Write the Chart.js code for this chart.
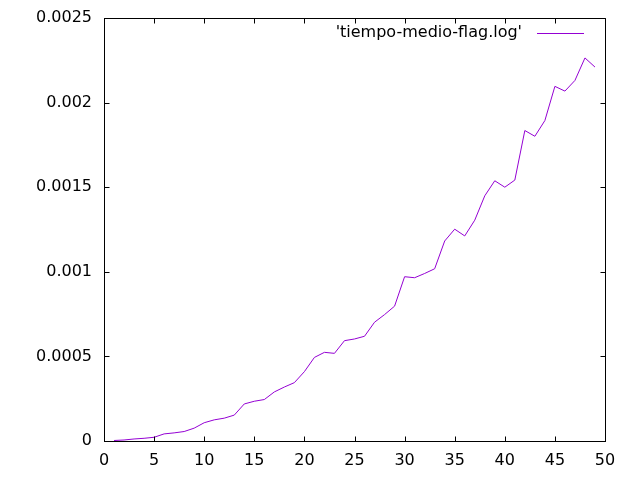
<!DOCTYPE html>
<html>
<head>
<meta charset="utf-8">
<script src="https://cdn.jsdelivr.net/npm/chart.js@4/dist/chart.umd.min.js"></script>
<style>
html,body{margin:0;padding:0;background:#fff;}
#wrap{width:640px;height:480px;}
</style>
</head>
<body>
<div id="wrap"><canvas id="c" width="640" height="480"></canvas></div>
<script>
const seriesLabel = "'tiempo-medio-flag.log'";
const xValues = [1,2,3,4,5,6,7,8,9,10,11,12,13,14,15,16,17,18,19,20,21,22,23,24,25,26,27,28,29,30,31,32,33,34,35,36,37,38,39,40,41,42,43,44,45,46,47,48,49];
const yValues = [0.000003,0.000006,0.000012,0.000016,0.000022,0.000042,0.000048,0.000056,0.000076,0.000108,
  0.000125,0.000135,0.000153,0.000219,0.000235,0.000245,0.00029,0.000319,0.000345,0.00041,
  0.000494,0.000524,0.000518,0.000593,0.000603,0.000619,0.000702,0.000747,0.000797,0.000971,
  0.000965,0.00099,0.001018,0.001182,0.001252,0.001212,0.001305,0.001449,0.001538,0.0015,
  0.001542,0.001835,0.001801,0.001894,0.002096,0.002068,0.002131,0.002264,0.00221];
const xTicks = [0,5,10,15,20,25,30,35,40,45,50];
const yTickLabels = ['0','0.0005','0.001','0.0015','0.002','0.0025'];
const yTicks = [0,0.0005,0.001,0.0015,0.002,0.0025];

const FONT = "'DejaVu Sans', sans-serif";
const LINE_COLOR = '#9400d3';

const gnuplotFrame = {
  id: 'gnuplotFrame',
  afterDraw(chart) {
    const ctx = chart.ctx;
    const a = chart.chartArea;
    const xs = chart.scales.x, ys = chart.scales.y;
    const L = Math.round(a.left) + 0.5, R = Math.round(a.right) + 0.5;
    const T = Math.round(a.top) + 0.5, B = Math.round(a.bottom) + 0.5;
    const tl = 5;
    ctx.save();
    ctx.strokeStyle = '#000';
    ctx.lineWidth = 1;
    ctx.beginPath();
    ctx.rect(L, T, R - L, B - T);
    xTicks.forEach(v => {
      const px = Math.round(xs.getPixelForValue(v)) + 0.5;
      ctx.moveTo(px, B); ctx.lineTo(px, B - tl);
      ctx.moveTo(px, T); ctx.lineTo(px, T + tl);
    });
    yTicks.forEach(v => {
      const py = Math.round(ys.getPixelForValue(v)) + 0.5;
      ctx.moveTo(L, py); ctx.lineTo(L + tl, py);
      ctx.moveTo(R, py); ctx.lineTo(R - tl, py);
    });
    ctx.stroke();
    // legend
    const ds = chart.data.datasets[0];
    ctx.font = '16px ' + FONT;
    ctx.fillStyle = '#000';
    ctx.textAlign = 'right';
    ctx.textBaseline = 'middle';
    ctx.fillText(ds.label, 522, 33);
    ctx.strokeStyle = ds.borderColor;
    ctx.beginPath();
    ctx.moveTo(537, 33.5); ctx.lineTo(584, 33.5);
    ctx.stroke();
    ctx.restore();
  }
};

new Chart(document.getElementById('c'), {
  type: 'line',
  data: {
    datasets: [{
      label: seriesLabel,
      data: xValues.map((x, i) => ({x: x, y: yValues[i]})),
      borderColor: LINE_COLOR,
      borderWidth: 1,
      pointRadius: 0,
      tension: 0,
      fill: false
    }]
  },
  options: {
    responsive: false,
    devicePixelRatio: 1,
    animation: false,
    layout: {padding: {top: 18, right: 35, left: 0, bottom: 0}},
    plugins: {legend: {display: false}, tooltip: {enabled: false}},
    scales: {
      x: {
        type: 'linear', min: 0, max: 50,
        afterFit(s) { s.height = 39; s.paddingLeft = 0; s.paddingRight = 0; },
        afterBuildTicks(s) { s.ticks = xTicks.map(v => ({value: v})); },
        grid: {display: false, drawTicks: false},
        border: {display: true, color: '#000', width: 1},
        ticks: {color: '#000', font: {family: FONT, size: 16}, padding: 10, maxRotation: 0,
          callback: v => String(v)}
      },
      y: {
        type: 'linear', min: 0, max: 0.0025,
        afterFit(s) { s.width = 104; s.paddingTop = 0; s.paddingBottom = 0; },
        afterBuildTicks(s) { s.ticks = yTicks.map(v => ({value: v})); },
        grid: {display: false, drawTicks: false},
        border: {display: true, color: '#000', width: 1},
        ticks: {color: '#000', font: {family: FONT, size: 16}, padding: 12,
          callback: (v, i) => yTickLabels[i]}
      }
    }
  },
  plugins: [gnuplotFrame]
});
</script>
</body>
</html>
